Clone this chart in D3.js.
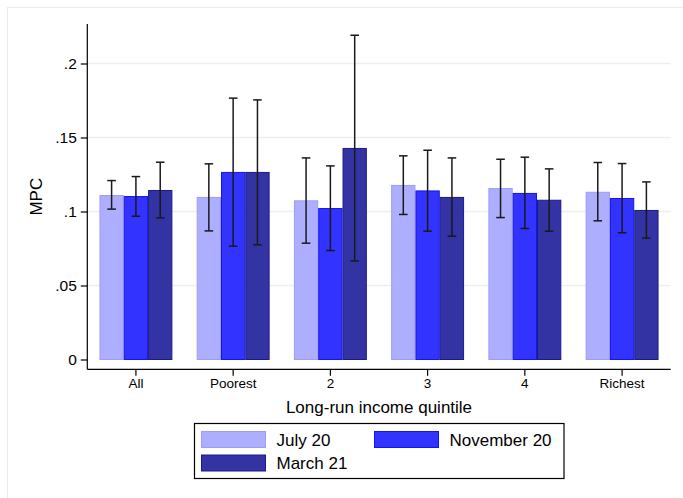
<!DOCTYPE html>
<html>
<head>
<meta charset="utf-8">
<script src="https://cdn.jsdelivr.net/npm/d3@7"></script>
<style>
  html, body { margin: 0; padding: 0; background: #fff; }
  svg { display: block; font-family: "Liberation Sans", Arial, sans-serif; }
</style>
</head>
<body>
<svg id="chart" width="683" height="498"></svg>
<script>
// Marginal propensity to consume by long-run income quintile, three survey waves
const categories = ["All", "Poorest", "2", "3", "4", "Richest"];
const seriesNames = ["July 20", "November 20", "March 21"];

// Point estimates
const july20 = [0.1108, 0.1095, 0.1072, 0.1176, 0.1155, 0.1130];
const nov20  = [0.1101, 0.1264, 0.1020, 0.1139, 0.1122, 0.1088];
const mar21  = [0.1142, 0.1264, 0.1426, 0.1095, 0.1076, 0.1007];

// Confidence interval bounds
const july20Lo = [0.1016, 0.0869, 0.0786, 0.0980, 0.0959, 0.0937];
const july20Hi = [0.1209, 0.1322, 0.1362, 0.1376, 0.1353, 0.1331];
const nov20Lo  = [0.0968, 0.0766, 0.0736, 0.0867, 0.0885, 0.0856];
const nov20Hi  = [0.1236, 0.1766, 0.1308, 0.1414, 0.1367, 0.1324];
const mar21Lo  = [0.0957, 0.0775, 0.0666, 0.0833, 0.0867, 0.0820];
const mar21Hi  = [0.1333, 0.1754, 0.2191, 0.1362, 0.1288, 0.1200];

const yTicks = [0, 0.05, 0.1, 0.15, 0.2];
const yTickLabels = ["0", ".05", ".1", ".15", ".2"];

const values = [july20, nov20, mar21];
const lows = [july20Lo, nov20Lo, mar21Lo];
const highs = [july20Hi, nov20Hi, mar21Hi];

const fills   = ["#aeaeff", "#3333ff", "#3333a3"];
const strokes = ["#9c9cf6", "#1414ee", "#1a1a8e"];

const svg = d3.select("#chart");

// Plot region
const plotLeft = 87.3, plotRight = 670.7, plotTop = 24, plotBottom = 369.3;

// Outer graph frame (only its top and left edges fall inside the canvas)
svg.append("rect")
  .attr("x", 7.5).attr("y", 7.5)
  .attr("width", 720).attr("height", 600)
  .attr("fill", "none").attr("stroke", "#e6eef0").attr("stroke-width", 1.2);

const x = d3.scaleBand()
  .domain(categories)
  .range([plotLeft, plotRight])
  .paddingInner(0.25)
  .paddingOuter(0.125);

const xs = d3.scaleBand()
  .domain(seriesNames)
  .range([0, x.bandwidth()])
  .padding(0);

const y = d3.scaleLinear()
  .domain([0, 0.2])
  .range([359.5, 63.5]);

// Gridlines
svg.append("g")
  .selectAll("line")
  .data(yTicks.filter(d => d > 0))
  .join("line")
  .attr("x1", plotLeft).attr("x2", plotRight)
  .attr("y1", d => y(d)).attr("y2", d => y(d))
  .attr("stroke", "#eaf0f0").attr("stroke-width", 1.3);

// Bars
const rows = [];
seriesNames.forEach((s, si) => {
  categories.forEach((c, ci) => {
    rows.push({ s, si, c, v: values[si][ci], lo: lows[si][ci], hi: highs[si][ci] });
  });
});

svg.append("g")
  .selectAll("rect")
  .data(rows)
  .join("rect")
  .attr("x", d => x(d.c) + xs(d.s) + 0.5)
  .attr("y", d => y(d.v))
  .attr("width", xs.bandwidth() - 1)
  .attr("height", d => y(0) - y(d.v))
  .attr("fill", d => fills[d.si])
  .attr("stroke", d => strokes[d.si])
  .attr("stroke-width", 1);

// Error bars with caps
const eb = svg.append("g").attr("stroke", "#1a1a1a").attr("stroke-width", 1.5);
const cx = d => x(d.c) + xs(d.s) + xs.bandwidth() / 2;
eb.selectAll("line.v").data(rows).join("line").attr("class", "v")
  .attr("x1", cx).attr("x2", cx)
  .attr("y1", d => y(d.lo)).attr("y2", d => y(d.hi));
eb.selectAll("line.t").data(rows).join("line").attr("class", "t")
  .attr("x1", d => cx(d) - 4.3).attr("x2", d => cx(d) + 4.3)
  .attr("y1", d => y(d.hi)).attr("y2", d => y(d.hi));
eb.selectAll("line.b").data(rows).join("line").attr("class", "b")
  .attr("x1", d => cx(d) - 4.3).attr("x2", d => cx(d) + 4.3)
  .attr("y1", d => y(d.lo)).attr("y2", d => y(d.lo));

// Y axis
const yAxis = d3.axisLeft(y)
  .tickValues(yTicks)
  .tickFormat((d, i) => yTickLabels[i])
  .tickSize(6.5)
  .tickPadding(4);
const gy = svg.append("g").attr("transform", `translate(${plotLeft},0)`).call(yAxis);
gy.select(".domain").remove();
gy.append("line").attr("x1", 0).attr("x2", 0).attr("y1", plotTop).attr("y2", plotBottom)
  .attr("stroke", "#000").attr("stroke-width", 1.2);
gy.selectAll(".tick line").attr("stroke", "#000").attr("stroke-width", 1.2);
gy.selectAll(".tick text").attr("font-size", 15.5).attr("fill", "#000")
  .attr("font-family", "Liberation Sans, Arial, sans-serif");

// X axis
const xAxis = d3.axisBottom(x).tickSize(6.5).tickPadding(3);
const gx = svg.append("g").attr("transform", `translate(0,${plotBottom})`).call(xAxis);
gx.select(".domain").remove();
gx.append("line").attr("x1", plotLeft).attr("x2", plotRight).attr("y1", 0).attr("y2", 0)
  .attr("stroke", "#000").attr("stroke-width", 1.2);
gx.selectAll(".tick line").attr("stroke", "#000").attr("stroke-width", 1.2);
gx.selectAll(".tick text").attr("font-size", 13.5).attr("fill", "#000")
  .attr("font-family", "Liberation Sans, Arial, sans-serif");

// Axis titles
svg.append("text")
  .attr("x", (plotLeft + plotRight) / 2).attr("y", 413)
  .attr("text-anchor", "middle").attr("font-size", 17)
  .text("Long-run income quintile");

svg.append("text")
  .attr("transform", `translate(42,${(plotTop + plotBottom) / 2}) rotate(-90)`)
  .attr("text-anchor", "middle").attr("font-size", 17)
  .text("MPC");

// Legend
const lg = svg.append("g");
lg.append("rect")
  .attr("x", 194.5).attr("y", 423.5).attr("width", 369.5).attr("height", 55)
  .attr("fill", "#fff").attr("stroke", "#000").attr("stroke-width", 1.2);
const legendPos = [[201, 431], [374, 431], [201, 454.5]];
seriesNames.forEach((s, i) => {
  const [lx, ly] = legendPos[i];
  lg.append("rect")
    .attr("x", lx + 0.5).attr("y", ly + 0.5).attr("width", 64).attr("height", 16)
    .attr("fill", fills[i]).attr("stroke", strokes[i]).attr("stroke-width", 1);
  lg.append("text")
    .attr("x", lx + 75.5).attr("y", ly + 14.5)
    .attr("font-size", 17).attr("fill", "#000")
    .text(s);
});
</script>
</body>
</html>
